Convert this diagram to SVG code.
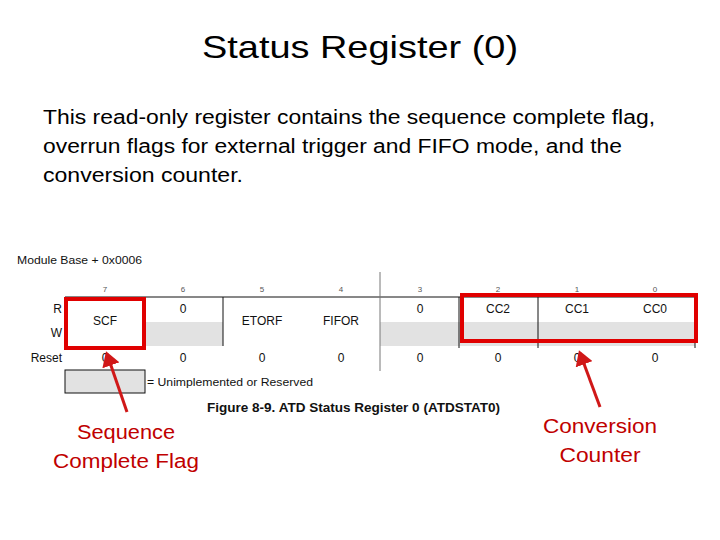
<svg xmlns="http://www.w3.org/2000/svg" width="720" height="540" viewBox="0 0 720 540">
<defs>
<style>
.title{font-family:"Liberation Sans",Arial,sans-serif;font-size:32px;fill:#000}
.body{font-family:"Liberation Sans",Arial,sans-serif;font-size:20px;fill:#000}
.tbl{font-family:"Liberation Sans",Arial,sans-serif;font-size:11px;fill:#111}
.cell{font-family:"Liberation Sans",Arial,sans-serif;font-size:12px;fill:#111}
.bit{font-family:"Liberation Sans",Arial,sans-serif;font-size:8px;fill:#555}
.cap{font-family:"Liberation Sans",Arial,sans-serif;font-size:12px;font-weight:bold;fill:#111}
.lbl{font-family:"Liberation Sans",Arial,sans-serif;font-size:20px;fill:#c00000}
.gray{fill:#e2e2e2}
.ln{stroke:#111;stroke-width:1;fill:none}
.hl{stroke:#e00000;stroke-width:4;fill:none}
.arr{stroke:#d01818;stroke-width:3;fill:none}
</style>
<marker id="ah" markerWidth="6" markerHeight="6" refX="4" refY="3" orient="auto" markerUnits="strokeWidth">
<path d="M0,0 L5,3 L0,6 Z" fill="#d01818"/>
</marker>
</defs>
<rect width="720" height="540" fill="#fff"/>
<g id="title"><text class="title" x="360" y="58" text-anchor="middle" textLength="316" lengthAdjust="spacingAndGlyphs">Status Register (0)</text></g>
<g id="desc">
<text class="body" x="43" y="124" textLength="612" lengthAdjust="spacingAndGlyphs">This read-only register contains the sequence complete flag,</text>
<text class="body" x="43" y="153" textLength="579" lengthAdjust="spacingAndGlyphs">overrun flags for external trigger and FIFO mode, and the</text>
<text class="body" x="43" y="182" textLength="200" lengthAdjust="spacingAndGlyphs">conversion counter.</text>
</g>
<g id="register">
<text class="tbl" x="17" y="264" textLength="125" lengthAdjust="spacingAndGlyphs">Module Base + 0x0006</text>
<g text-anchor="middle">
<text class="bit" x="105" y="292">7</text><text class="bit" x="183" y="292">6</text><text class="bit" x="262" y="292">5</text><text class="bit" x="341" y="292">4</text><text class="bit" x="420" y="292">3</text><text class="bit" x="498" y="292">2</text><text class="bit" x="577" y="292">1</text><text class="bit" x="655" y="292">0</text>
</g>
<rect class="gray" x="145" y="322" width="78" height="24"/>
<rect class="gray" x="380" y="322" width="315" height="24"/>
<line class="ln" x1="65" y1="297" x2="695" y2="297"/>
<line class="ln" x1="145" y1="297" x2="145" y2="346"/>
<line class="ln" x1="223" y1="297" x2="223" y2="346"/>
<line stroke="#777" stroke-width="1" x1="380" y1="272" x2="380" y2="371"/>
<line class="ln" x1="459" y1="297" x2="459" y2="348"/>
<line class="ln" x1="538" y1="297" x2="538" y2="348"/>
<line class="ln" x1="695" y1="297" x2="695" y2="348"/>
<g text-anchor="end">
<text class="cell" x="62" y="313">R</text>
<text class="cell" x="62" y="337">W</text>
<text class="cell" x="62" y="362">Reset</text>
</g>
<g text-anchor="middle">
<text class="cell" x="105" y="325">SCF</text>
<text class="cell" x="183" y="313">0</text>
<text class="cell" x="262" y="325">ETORF</text>
<text class="cell" x="341" y="325">FIFOR</text>
<text class="cell" x="420" y="313">0</text>
<text class="cell" x="498" y="313">CC2</text>
<text class="cell" x="577" y="313">CC1</text>
<text class="cell" x="655" y="313">CC0</text>
<text class="cell" x="105" y="362">0</text><text class="cell" x="183" y="362">0</text><text class="cell" x="262" y="362">0</text><text class="cell" x="341" y="362">0</text><text class="cell" x="420" y="362">0</text><text class="cell" x="498" y="362">0</text><text class="cell" x="577" y="362">0</text><text class="cell" x="655" y="362">0</text>
</g>
<rect class="gray" x="65" y="370" width="80" height="23" stroke="#111" stroke-width="1"/>
<text class="tbl" x="147" y="386" textLength="166" lengthAdjust="spacingAndGlyphs">= Unimplemented or Reserved</text>
<text class="cap" x="207" y="412" textLength="293" lengthAdjust="spacingAndGlyphs">Figure 8-9. ATD Status Register 0 (ATDSTAT0)</text>
</g>
<g id="highlight-scf"><rect class="hl" x="66" y="299" width="78" height="49"/></g>
<g id="highlight-cc"><rect class="hl" x="462" y="295" width="234" height="46"/></g>
<g id="connectors">
<line class="arr" x1="127" y1="412" x2="107" y2="354" marker-end="url(#ah)"/>
<line class="arr" x1="600" y1="407" x2="580" y2="353" marker-end="url(#ah)"/>
</g>
<g id="label-scf" text-anchor="middle">
<text class="lbl" x="126" y="439" textLength="98" lengthAdjust="spacingAndGlyphs">Sequence</text>
<text class="lbl" x="126" y="468" textLength="146" lengthAdjust="spacingAndGlyphs">Complete Flag</text>
</g>
<g id="label-cc" text-anchor="middle">
<text class="lbl" x="600" y="433" textLength="114" lengthAdjust="spacingAndGlyphs">Conversion</text>
<text class="lbl" x="600" y="462" textLength="81" lengthAdjust="spacingAndGlyphs">Counter</text>
</g>
</svg>
